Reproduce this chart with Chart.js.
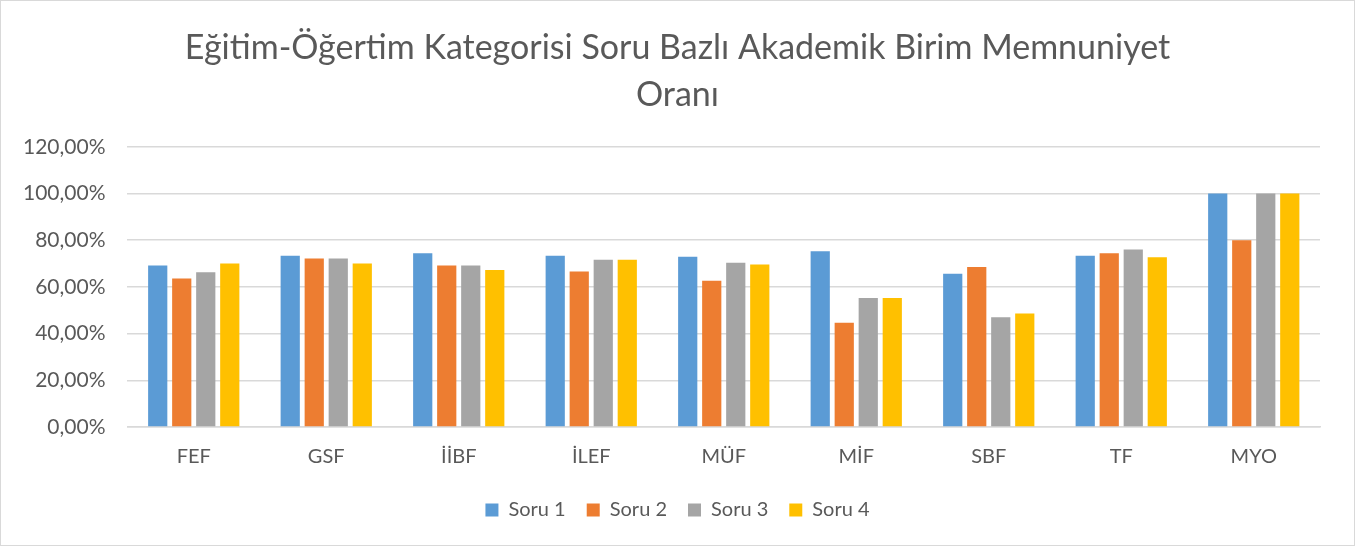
<!DOCTYPE html>
<html>
<head>
<meta charset="utf-8">
<script src="https://cdn.jsdelivr.net/npm/chart.js@4"></script>
<style>
  html, body { margin: 0; padding: 0; background: #fff; }
  #kutu { position: relative; width: 1353px; height: 544px; border: 1px solid #d9d9d9; }
</style>
</head>
<body>
<div id="kutu"><canvas id="grafik"></canvas></div>
<script>
// Veriler (yüzde)
var birimler = ["FEF", "GSF", "İİBF", "İLEF", "MÜF", "MİF", "SBF", "TF", "MYO"];
var soru1 = [69.2, 73.3, 74.4, 73.3, 72.9, 75.3, 65.6, 73.4, 100];
var soru2 = [63.6, 72.2, 69.2, 66.6, 62.6, 44.6, 68.5, 74.4, 80];
var soru3 = [66.3, 72.2, 69.2, 71.6, 70.3, 55.3, 47.0, 76.0, 100];
var soru4 = [70.0, 70.0, 67.2, 71.6, 69.6, 55.3, 48.6, 72.7, 100];
var seriAdlari = ["Soru 1", "Soru 2", "Soru 3", "Soru 4"];
var renkler = ["#5b9bd5", "#ed7d31", "#a5a5a5", "#ffc000"];

var yazi = "Lato, 'Open Sans', sans-serif";
var gri = "#595959";

var seriler = [soru1, soru2, soru3, soru4];
var ds = [];
for (var i = 0; i < seriler.length; i++) {
    ds.push({
        label: seriAdlari[i],
        data: seriler[i],
        backgroundColor: renkler[i],
        borderWidth: 0,
        categoryPercentage: 0.725,
        barPercentage: 0.8
    });
}

var ctx = document.getElementById('grafik').getContext('2d');
var chart = new Chart(ctx, {
    type: 'bar',
    data: { labels: birimler, datasets: ds },
    options: {
        responsive: true,
        maintainAspectRatio: false,
        animation: false,
        layout: { padding: { left: 0, right: 0, top: 0, bottom: 15 } },
        plugins: {
            title: {
                display: true,
                text: ["Eğitim-Öğertim Kategorisi Soru Bazlı Akademik Birim Memnuniyet", "Oranı"],
                color: gri,
                font: { family: yazi, size: 34, weight: 'normal', lineHeight: 1.38 },
                padding: { top: 24, bottom: 28 }
            },
            legend: {
                position: 'bottom',
                labels: {
                    color: gri,
                    font: { family: yazi, size: 20 },
                    boxWidth: 13,
                    boxHeight: 13,
                    padding: 21
                }
            },
            tooltip: { enabled: false }
        },
        scales: {
            x: {
                grid: { display: false },
                border: { display: true, color: '#d9d9d9', width: 1.5 },
                ticks: { color: gri, font: { family: yazi, size: 20 }, padding: 10 }
            },
            y: {
                min: 0,
                max: 120,
                border: { display: false },
                grid: { color: '#d9d9d9', lineWidth: 1.5, drawTicks: false },
                ticks: {
                    stepSize: 20,
                    color: gri,
                    font: { family: yazi, size: 21 },
                    padding: 22,
                    callback: function (v) { return v.toFixed(2).replace('.', ',') + '%'; }
                }
            },
            // sağ boşluk (başlık ortada kalsın diye)
            bos: {
                position: 'right',
                grid: { display: false },
                border: { display: false },
                ticks: { display: false },
                afterFit: function (s) { s.width = 34; }
            }
        }
    }
});
</script>
</body>
</html>
